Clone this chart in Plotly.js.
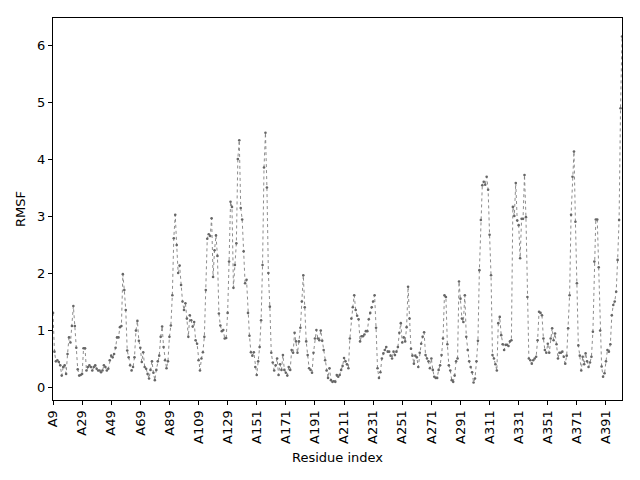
<!doctype html>
<html>
<head>
  <meta charset="utf-8">
  <title>RMSF</title>
  <script src="https://cdn.plot.ly/plotly-3.0.1.min.js"></script>
  <style>
    body { margin: 0; font-family: "DejaVu Sans"; }
  </style>
</head>
<body>
  <div id="plot" style="width:640px;height:480px;"></div>
  <script>
      // tick labels shown on the x axis (every 20th residue)
      var tickPos = [0, 20, 40, 60, 80, 100, 120, 140, 160, 180, 200, 220, 240, 260, 280, 300, 320, 340, 360, 380];
      var tickText = ['A9', 'A29', 'A49', 'A69', 'A89', 'A109', 'A129', 'A151', 'A171', 'A191',
                      'A211', 'A231', 'A251', 'A271', 'A291', 'A311', 'A331', 'A351', 'A371', 'A391'];

      // RMSF per residue
      var rmsf = [
        1.30, 0.62, 0.45, 0.47, 0.44, 0.38, 0.20, 0.35, 0.38, 0.23,
        0.58, 0.87, 0.78, 1.07, 1.42, 1.07, 0.69, 0.31, 0.20, 0.21,
        0.23, 0.68, 0.68, 0.29, 0.35, 0.38, 0.35, 0.29, 0.35, 0.38,
        0.32, 0.29, 0.29, 0.26, 0.29, 0.38, 0.35, 0.29, 0.32, 0.47,
        0.55, 0.52, 0.58, 0.69, 0.87, 0.87, 1.05, 1.07, 1.98, 1.70,
        1.35, 0.64, 0.52, 0.38, 0.29, 0.35, 0.52, 0.99, 1.16, 0.81,
        0.69, 0.44, 0.61, 0.35, 0.32, 0.23, 0.15, 0.30, 0.45, 0.25,
        0.12, 0.30, 0.45, 0.55, 0.88, 1.06, 0.70, 0.47, 0.33, 0.45,
        0.88, 1.08, 1.61, 2.61, 3.02, 2.49, 2.00, 2.13, 1.79, 1.50,
        1.35, 1.47, 1.20, 0.88, 1.26, 1.17, 1.06, 1.14, 0.82, 0.76,
        0.47, 0.29, 0.50, 0.61, 0.88, 1.70, 2.60, 2.68, 2.65, 2.96,
        1.93, 2.40, 2.66, 2.30, 1.29, 1.08, 0.98, 1.00, 0.85, 0.86,
        1.30, 2.20, 3.25, 3.16, 1.74, 2.14, 2.52, 4.00, 4.33, 3.14,
        2.94, 2.38, 1.82, 1.88, 1.30, 0.90, 0.61, 0.55, 0.61, 0.35,
        0.21, 0.45, 0.70, 1.17, 2.14, 3.85, 4.46, 3.50, 2.00, 1.41,
        0.60, 0.43, 0.29, 0.38, 0.50, 0.21, 0.40, 0.30, 0.56, 0.30,
        0.25, 0.20, 0.35, 0.30, 0.65, 0.60, 0.95, 0.80, 0.60, 0.80,
        1.04, 1.50, 1.96, 1.40, 0.80, 0.56, 0.33, 0.30, 0.25, 0.60,
        0.85, 1.00, 0.85, 0.82, 0.99, 0.81, 0.65, 0.47, 0.29, 0.16,
        0.33, 0.12, 0.09, 0.10, 0.09, 0.21, 0.18, 0.21, 0.30, 0.37,
        0.51, 0.45, 0.40, 0.33, 0.85, 1.20, 1.40, 1.61, 1.35, 1.25,
        1.19, 0.80, 0.89, 0.89, 0.92, 0.98, 0.98, 1.19, 1.30, 1.40,
        1.50, 1.61, 1.04, 0.33, 0.16, 0.26, 0.50, 0.59, 0.65, 0.70,
        0.62, 0.62, 0.55, 0.50, 0.62, 0.56, 0.62, 0.70, 0.95, 1.12,
        0.78, 0.87, 0.80, 1.05, 1.76, 1.20, 0.67, 0.55, 0.41, 0.55,
        0.52, 0.35, 0.60, 0.76, 0.88, 0.96, 0.56, 0.50, 0.45, 0.33,
        0.50, 0.30, 0.18, 0.16, 0.16, 0.30, 0.38, 0.56, 0.85, 1.61,
        1.58, 0.75, 0.38, 0.29, 0.12, 0.09, 0.20, 0.45, 0.50, 1.85,
        1.55, 1.20, 1.14, 1.61, 0.88, 0.65, 0.45, 0.35, 0.26, 0.08,
        0.15, 0.45, 0.81, 2.05, 2.93, 3.54, 3.60, 3.55, 3.69, 3.46,
        2.67, 1.96, 0.56, 0.50, 0.40, 0.29, 1.12, 1.23, 0.91, 0.75,
        0.65, 0.74, 0.74, 0.72, 0.80, 0.82, 3.16, 3.00, 3.58, 2.92,
        2.84, 2.26, 2.95, 2.95, 3.72, 2.98, 1.58, 0.50, 0.47, 0.41,
        0.47, 0.50, 0.53, 0.82, 1.32, 1.30, 1.26, 0.85, 0.65, 0.60,
        0.76, 0.60, 0.85, 1.03, 0.82, 0.94, 0.75, 0.50, 0.60, 0.60,
        0.62, 0.53, 0.41, 0.55, 1.03, 1.61, 3.02, 3.69, 4.13, 2.90,
        1.82, 0.73, 0.55, 0.29, 0.53, 0.40, 0.59, 0.45, 0.35, 0.43,
        0.53, 0.97, 2.20, 2.94, 2.94, 2.10, 0.99, 0.36, 0.18, 0.24,
        0.45, 0.65, 0.62, 0.75, 1.26, 1.44, 1.50, 1.67, 2.23, 2.93,
        4.89, 6.15
      ];

      // position index for each residue
      var idx = rmsf.map(function(v, i) { return i; });

      var trace = {
        x: idx,
        y: rmsf,
        type: 'scatter',
        mode: 'lines+markers',
        line: { color: '#808080', width: 0.9, dash: 'dot' },
        marker: { color: '#666666', size: 2.6 },
        hoverinfo: 'none'
      };

      var axisFont = { family: 'DejaVu Sans', size: 13, color: '#000' };

      var layout = {
        width: 640,
        height: 480,
        margin: { l: 53, r: 18, t: 18, b: 80 },
        paper_bgcolor: '#fff',
        plot_bgcolor: '#fff',
        showlegend: false,
        font: axisFont,
        xaxis: {
          range: [0, 391],
          tickmode: 'array',
          tickvals: tickPos,
          ticktext: tickText,
          tickangle: -90,
          ticks: 'outside',
          ticklen: 4,
          tickcolor: '#000',
          showgrid: false,
          zeroline: false,
          showline: true,
          mirror: true,
          linecolor: '#000',
          linewidth: 1,
          tickfont: axisFont,
          title: { text: 'Residue index', font: axisFont, standoff: 9 }
        },
        yaxis: {
          range: [-0.228, 6.474],
          tickvals: [0, 1, 2, 3, 4, 5, 6],
          ticks: 'outside',
          ticklen: 4,
          tickcolor: '#000',
          showgrid: false,
          zeroline: false,
          showline: true,
          mirror: true,
          linecolor: '#000',
          linewidth: 1,
          tickfont: axisFont,
          title: { text: 'RMSF', font: axisFont, standoff: 8 }
        }
      };

      Plotly.newPlot('plot', [trace], layout, { staticPlot: true });
  </script>
</body>
</html>
